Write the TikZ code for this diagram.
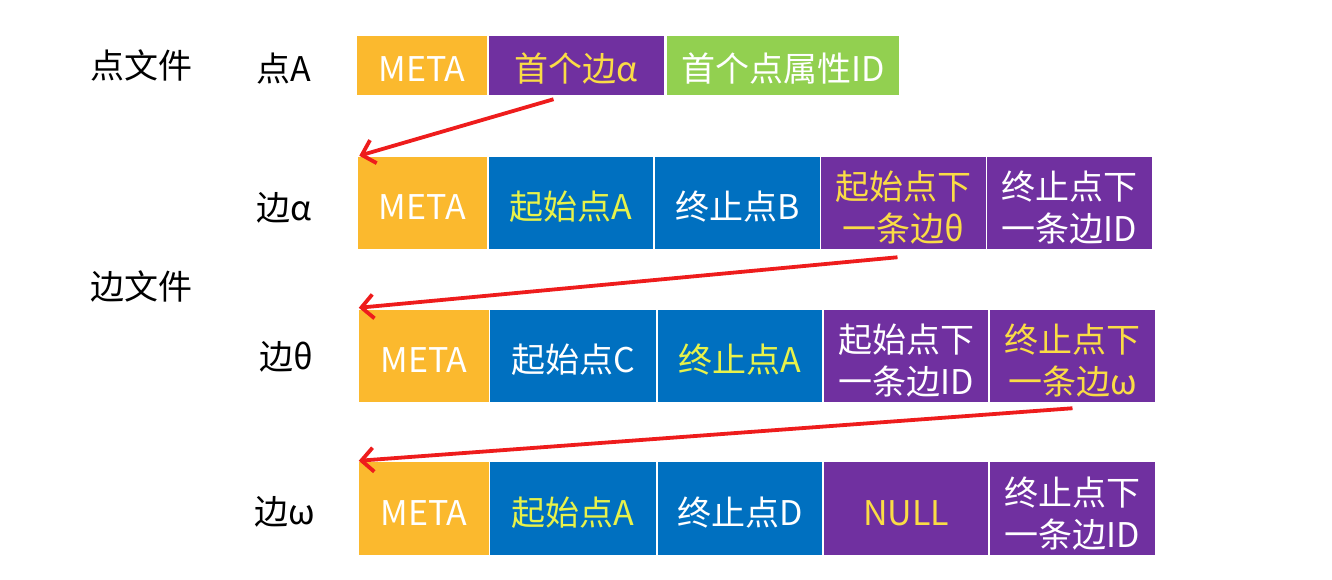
\documentclass[tikz,border=0pt]{standalone}
\usepackage{fontspec}
\setmainfont{Noto Sans CJK SC}
\usetikzlibrary{arrows.meta,calc}
\definecolor{cOrange}{HTML}{FBB92E}
\definecolor{cPurple}{HTML}{7030A0}
\definecolor{cGreen}{HTML}{92D050}
\definecolor{cBlue}{HTML}{0070C0}
\definecolor{yB}{HTML}{E8F24A}
\definecolor{yP}{HTML}{FADC45}
\definecolor{arrowred}{HTML}{EE1C1C}
\tikzset{
  cell/.style={draw=white, line width=1.5pt, inner sep=0pt, text=white, align=center,
    font=\fontsize{34}{42}\selectfont, text height=37pt, text depth=4pt},
  two/.style={text height=81pt, text depth=4pt},
  lbl/.style={inner sep=0pt, text=black, font=\fontsize{34}{40}\selectfont},
  link/.style={draw=arrowred, line width=3.8pt, -{Straight Barb[length=12pt,width=24pt,line width=3.8pt]}},
}
\begin{document}
\begin{tikzpicture}[x=1pt,y=-1pt]
\useasboundingbox (0,0) rectangle (1332,580);
% left labels
\node[lbl] (fv) at (141,65) {点文件};
\node[lbl] (fe) at (141,286) {边文件};
\node[lbl] (lA) at (284,69) {点A};
\node[lbl] (la) at (284,208) {边α};
\node[lbl] (lt) at (286,357) {边θ};
\node[lbl] (lw) at (285,512) {边ω};
% row 1
\node[cell, fill=cOrange, minimum width=131pt, minimum height=60pt] (a1) at (422,65.5) {META};
\node[cell, fill=cPurple, minimum width=177pt, minimum height=60pt, text=yP] (a2) at (576.5,65.5) {首个边α};
\node[cell, fill=cGreen, minimum width=234pt, minimum height=60pt] (a3) at (783,65.5) {首个点属性ID};
% row 2
\node[cell, fill=cOrange, minimum width=131pt, minimum height=93pt] (b1) at (422.5,203) {META};
\node[cell, fill=cBlue, minimum width=165pt, minimum height=93pt, text=yB] (b2) at (571,203) {起始点A};
\node[cell, fill=cBlue, minimum width=166pt, minimum height=93pt] (b3) at (737.5,203) {终止点B};
\node[cell, two, fill=cPurple, minimum width=166pt, minimum height=93pt, text=yP] (b4) at (903.5,203) {起始点下\\一条边θ};
\node[cell, two, fill=cPurple, minimum width=166pt, minimum height=93pt] (b5) at (1069.5,203) {终止点下\\一条边ID};
% row 3
\node[cell, fill=cOrange, minimum width=131pt, minimum height=93pt] (c1) at (424,356) {META};
\node[cell, fill=cBlue, minimum width=167pt, minimum height=93pt] (c2) at (573,356) {起始点C};
\node[cell, fill=cBlue, minimum width=166pt, minimum height=93pt, text=yB] (c3) at (740,356) {终止点A};
\node[cell, two, fill=cPurple, minimum width=166pt, minimum height=93pt] (c4) at (906,356) {起始点下\\一条边ID};
\node[cell, two, fill=cPurple, minimum width=167pt, minimum height=93pt, text=yP] (c5) at (1072.5,356) {终止点下\\一条边ω};
% row 4
\node[cell, fill=cOrange, minimum width=131pt, minimum height=94pt] (d1) at (424,508.5) {META};
\node[cell, fill=cBlue, minimum width=167pt, minimum height=94pt, text=yB] (d2) at (573,508.5) {起始点A};
\node[cell, fill=cBlue, minimum width=166pt, minimum height=94pt] (d3) at (740,508.5) {终止点D};
\node[cell, fill=cPurple, minimum width=166pt, minimum height=94pt, text=yP] (d4) at (906,508.5) {NULL};
\node[cell, two, fill=cPurple, minimum width=167pt, minimum height=94pt] (d5) at (1072.5,508.5) {终止点下\\一条边ID};
% arrows
\coordinate (s1) at ($(a2.south)+(-23,3)$);
\coordinate (s2) at ($(b4.south)+(-6,7)$);
\coordinate (s3) at ($(c5.south)+(0,5)$);
\draw[link] (s1) -- ($(b1.north west)+(3,0)$);
\draw[link] (s2) -- ($(c1.north west)+(1,-1)$);
\draw[link] (s3) -- ($(d1.north west)+(1,0)$);
\end{tikzpicture}
\end{document}
